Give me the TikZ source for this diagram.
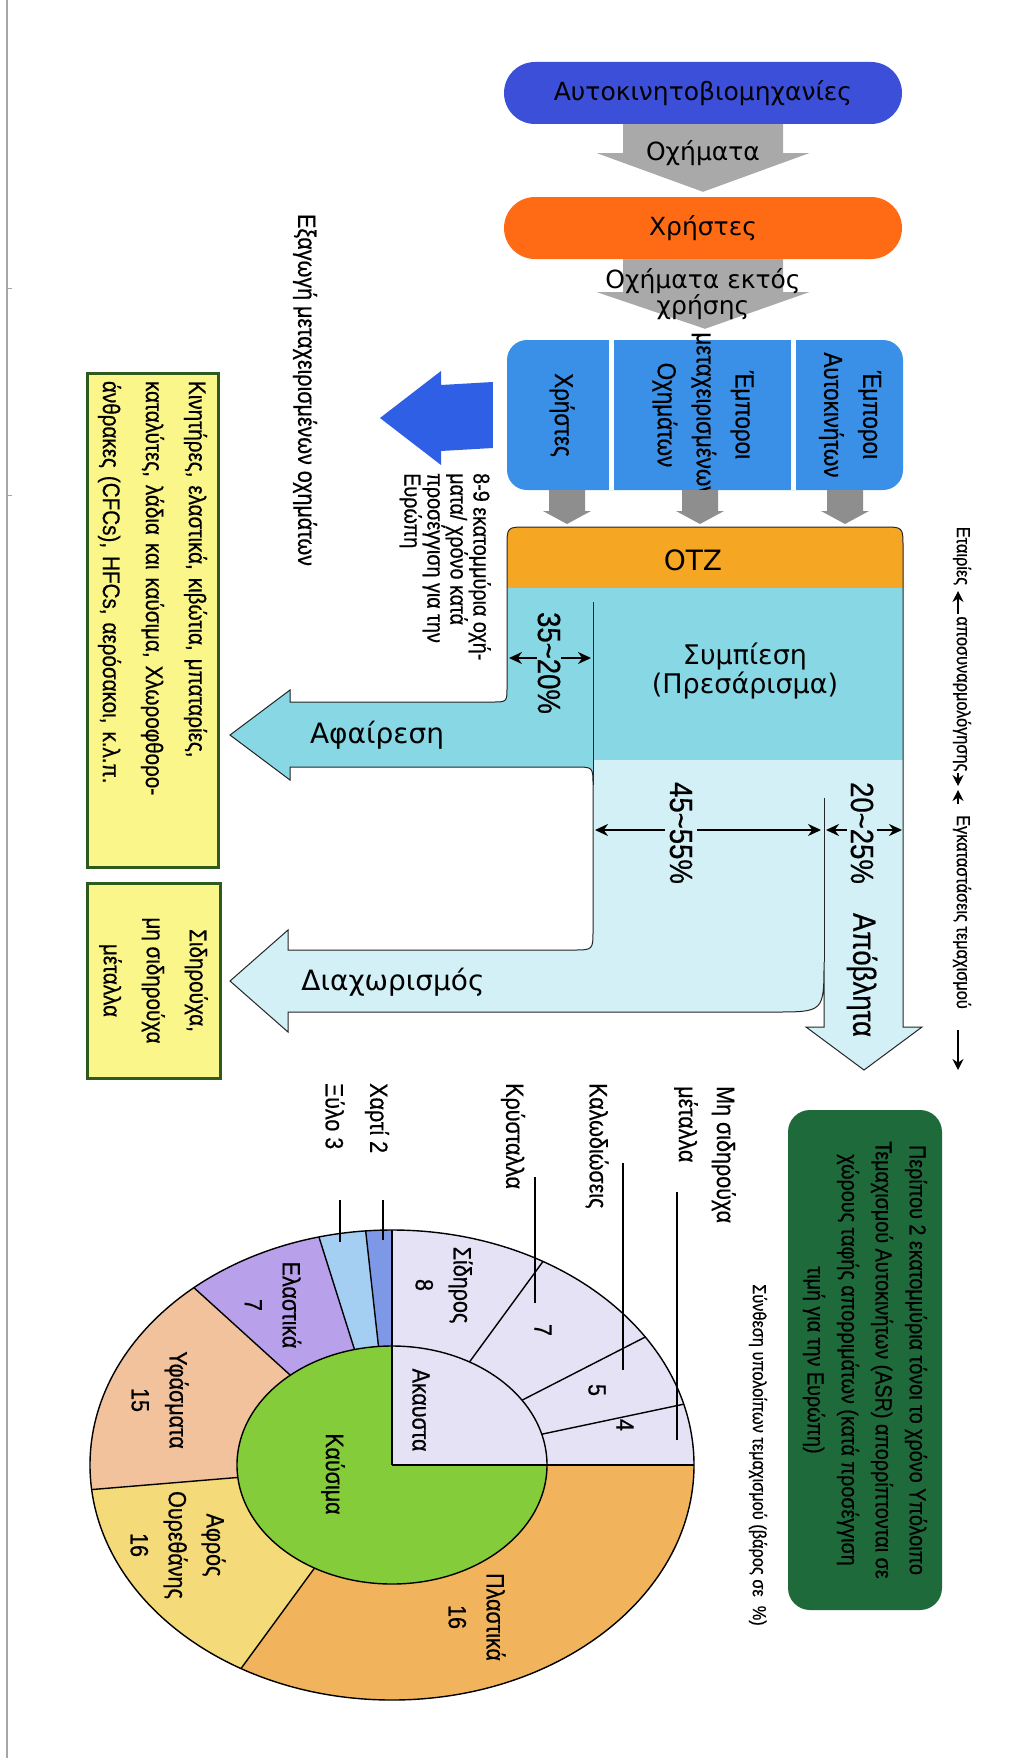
\documentclass[tikz,border=0pt]{standalone}
\usepackage{fontspec}
\setmainfont{DejaVu Sans}
\newfontfamily\condfont[FakeStretch=0.86,FakeBold=0.6]{Liberation Sans}
\usetikzlibrary{calc,arrows.meta}

\definecolor{makerblue}{HTML}{3B4FD9}
\definecolor{userorange}{HTML}{FF6B14}
\definecolor{arrowgray}{HTML}{A9A9A9}
\definecolor{stubgray}{HTML}{8E8E8E}
\definecolor{dealerblue}{HTML}{3A8FE6}
\definecolor{exportblue}{HTML}{2F5FE4}
\definecolor{otzorange}{HTML}{F5A623}
\definecolor{tealdark}{HTML}{88D7E4}
\definecolor{teallight}{HTML}{D2F0F6}
\definecolor{noteyellow}{HTML}{FBF68A}
\definecolor{noteedge}{HTML}{2F5A1E}
\definecolor{asrgreen}{HTML}{1F6A3A}
\definecolor{pieinert}{HTML}{E4E2F4}
\definecolor{piefuel}{HTML}{84CC3A}
\definecolor{pieplastic}{HTML}{F1B35C}
\definecolor{piefoam}{HTML}{F4DA78}
\definecolor{piecloth}{HTML}{F2C29C}
\definecolor{pierubber}{HTML}{B8A0EA}
\definecolor{piewood}{HTML}{A4CFF3}
\definecolor{piepaper}{HTML}{7E98E8}

% outline of the dismantling / shredding flow
\newcommand\flowpath{(507,547) .. controls (507,527) .. (527,527) -- (883,527)
  .. controls (903,527) .. (903,547) -- (903,1027) -- (922,1027) -- (864,1070)
  -- (806,1027) -- (824,1027) -- (824,962) .. controls (824,1012) .. (774,1012)
  -- (288,1012) -- (288,1032) -- (230,981) -- (288,930) -- (288,950) -- (573,950)
  .. controls (593,950) .. (593,930) -- (593,785) .. controls (593,767) .. (575,767)
  -- (290,767) -- (290,780) -- (230,735) -- (290,690) -- (290,702) -- (492,702)
  .. controls (507,702) .. (507,687) -- cycle}

% one wedge of the outer ring of the composition chart
\newcommand\ringwedge[3]{%
  \fill[#3] ([shift={(pc)}]#1:302pt and 235pt)
    arc[start angle=#1, end angle=#2, x radius=302pt, y radius=235pt]
    -- ([shift={(pc)}]#2:155pt and 119pt)
    arc[start angle=#2, end angle=#1, x radius=155pt, y radius=119pt] -- cycle;}
\newcommand\ringspoke[1]{%
  \draw[pieline] ([shift={(pc)}]#1:155pt and 119pt) -- ([shift={(pc)}]#1:302pt and 235pt);}

\tikzset{
  every node/.style={text=black, inner sep=0pt},
  pill/.style={rounded corners=31pt, minimum width=398pt, minimum height=62pt,
    font=\fontsize{25}{30}\selectfont},
  blocklabel/.style={align=center, font=\fontsize{25}{21}\selectfont},
  flowlabel/.style={align=center, font=\fontsize{27}{27}\selectfont},
  coltext/.style={rotate=-90, align=center, font=\condfont\fontsize{26}{39}\selectfont},
  dimtext/.style={rotate=-90, font=\condfont\fontsize{32}{36}\selectfont},
  sidetext/.style={rotate=-90, font=\condfont\fontsize{19}{22}\selectfont},
  notetext/.style={rotate=-90, align=left, font=\condfont\fontsize{23}{23}\selectfont},
  notebox/.style={rotate=-90, draw=noteedge, line width=3pt, fill=noteyellow,
    inner sep=8pt, font=\condfont\fontsize{24}{43}\selectfont},
  asrbox/.style={rotate=-90, fill=asrgreen, rounded corners=22pt, align=center,
    font=\condfont\fontsize{23}{34}\selectfont},
  pielabel/.style={rotate=-90, align=center, font=\condfont\fontsize{25}{38}\selectfont},
  leader/.style={line width=1.2pt},
  dimarrow/.style={line width=1.8pt, -{Stealth[length=13pt,width=12pt]}},
  sidearrow/.style={line width=1.6pt, -{Stealth[length=11pt,width=11pt]}},
  flowline/.style={line width=1pt, black!85},
  pieline/.style={line width=1.4pt},
}

\begin{document}
\begin{tikzpicture}[x=1pt, y=-1pt]
\useasboundingbox (0,0) rectangle (1017,1758);
\fill[white] (0,0) rectangle (1017,1758);

% page edge
\draw[black!35, line width=1.5pt] (7,0) -- (7,1758);
\draw[black!35, line width=1pt] (7,288) -- (12,288) (7,495) -- (12,495);

% ---------------- supply chain ----------------
\node[pill, fill=makerblue] (makers) at (703,93) {Αυτοκινητοβιομηχανίες};
\node[pill, fill=userorange] (users) at (703,228) {Χρήστες};

\fill[arrowgray] ($(makers.south)+(-80,0)$) -- ($(makers.south)+(80,0)$)
  -- ($(makers.south)+(80,29)$) -- ($(makers.south)+(106,29)$)
  -- ($(users.north)+(0,-5)$)
  -- ($(makers.south)+(-106,29)$) -- ($(makers.south)+(-80,29)$) -- cycle;
\node[blocklabel] (vehicles) at (703,153) {Οχήματα};

\node[rounded corners=20pt, fill=dealerblue, minimum width=396pt, minimum height=150pt]
  (dealers) at (705,415) {};
\fill[arrowgray] ($(users.south)+(-80,0)$) -- ($(users.south)+(80,0)$)
  -- ($(users.south)+(80,33)$) -- ($(users.south)+(106,33)$)
  -- ($(dealers.north)+(0,-11)$)
  -- ($(users.south)+(-106,33)$) -- ($(users.south)+(-80,33)$) -- cycle;
\node[blocklabel] (elv) at (703,294) {Οχήματα εκτός\\χρήσης};

\draw[white, line width=5pt] (611,340) -- (611,490) (793,340) -- (793,490);
\node[coltext] (colusers) at (562,415) {Χρήστες};
\node[coltext] (colused) at (703,415) {Έμποροι\\μεταχειρισμένων\\Οχημάτων};
\node[coltext] (coldealers) at (850,415) {Έμποροι\\Αυτοκινήτων};

\foreach \cx in {567,700,845}
  \fill[stubgray] (\cx-18,490) -- (\cx+18,490) -- (\cx+18,511) -- (\cx+24,511)
    -- (\cx,524) -- (\cx-24,511) -- (\cx-18,511) -- cycle;

% export of used vehicles
\fill[exportblue] ($(dealers.west)+(-14,-33)$) -- ($(dealers.west)+(-14,33)$)
  -- (441,451) -- (441,465) -- (380,418) -- (441,371) -- (441,385) -- cycle;
\node[notetext, anchor=north west] (exportnote) at (491,473)
  {8-9 εκατομμύρια οχή-\\ματα/ χρόνο κατά\\προσέγγιση για την\\Ευρώπη};
\node[sidetext, font=\condfont\fontsize{25}{26}\selectfont] (exporttitle) at (305,390)
  {Εξαγωγή μεταχειρισμένων οχημάτων};

% ---------------- dismantling and shredding ----------------
\fill[teallight] \flowpath;
\begin{scope}
  \clip \flowpath;
  \fill[tealdark] (200,588) rectangle (903,760);
  \fill[tealdark] (200,588) rectangle (593,800);
  \fill[otzorange] (500,520) rectangle (910,588);
\end{scope}
\draw[flowline] \flowpath;
\draw[flowline] (593,602) -- (593,785);
\draw[flowline] (824,798) -- (824,962);

\node[font=\fontsize{28}{30}\selectfont] (otz) at (693,560) {ΟΤΖ};
\node[flowlabel] (press) at (745,671) {Συμπίεση\\(Πρεσάρισμα)};
\node[font=\fontsize{28}{30}\selectfont] (removal) at (377,735) {Αφαίρεση};
\node[font=\fontsize{28}{30}\selectfont] (separation) at (393,982) {Διαχωρισμός};
\node[dimtext] (waste) at (862,975) {Απόβλητα};

% shares of the flow
\node[dimtext] (shareA) at (549,663) {35\textasciitilde 20\%};
\coordinate (shareAl) at (509,658); \coordinate (shareAr) at (591,658);
\draw[dimarrow] ($(shareA.center)+(-12,-5)$) -- (shareAl);
\draw[dimarrow] ($(shareA.center)+(12,-5)$) -- (shareAr);

\node[dimtext] (shareB) at (681,833) {45\textasciitilde 55\%};
\coordinate (shareBl) at (595,830); \coordinate (shareBr) at (821,830);
\draw[dimarrow] ($(shareB.center)+(-16,-3)$) -- (shareBl);
\draw[dimarrow] ($(shareB.center)+(16,-3)$) -- (shareBr);

\node[dimtext] (shareC) at (862,833) {20\textasciitilde 25\%};
\coordinate (shareCl) at (826,830); \coordinate (shareCr) at (902,830);
\draw[dimarrow] ($(shareC.center)+(-15,-3)$) -- (shareCl);
\draw[dimarrow] ($(shareC.center)+(15,-3)$) -- (shareCr);

% stages of the chain
\node[sidetext] (firms) at (962,556) {Εταιρίες};
\node[sidetext] (firmsb) at (962,694) {αποσυναρμολόγησης};
\node[sidetext] (plants) at (962,912) {Εγκαταστάσεις τεμαχισμού};
\coordinate (firmsStartTail) at (958,614);
\coordinate (firmsStart) at (958,591);
\coordinate (firmsEndTail) at (958,773);
\coordinate (firmsEnd) at (958,786);
\coordinate (plantsStartTail) at (958,804);
\coordinate (plantsStart) at (958,790);
\coordinate (plantsEndTail) at (958,1030);
\coordinate (plantsEnd) at (958,1070);
\draw[sidearrow] (firmsStartTail) -- (firmsStart);
\draw[sidearrow] (firmsEndTail) -- (firmsEnd);
\draw[sidearrow] (plantsStartTail) -- (plantsStart);
\draw[sidearrow] (plantsEndTail) -- (plantsEnd);

% outputs
\node[notebox, minimum width=494pt, minimum height=131pt, text width=478pt, align=left]
  (removed) at (152.5,620)
  {Κινητήρες, ελαστικά, κιβώτια, μπαταρίες,\\καταλύτες, λάδια και καύσιμα, Χλωροφθορο-\\άνθρακες (CFCs), HFCs, αερόσακοι, κ.λ.π.};
\node[notebox, minimum width=195pt, minimum height=133pt, align=center]
  (sorted) at (153.5,980.5) {Σιδηρούχα,\\μη σιδηρούχα\\μέταλλα};

\node[asrbox, minimum width=500pt, minimum height=154pt] (asr) at (865,1360)
  {Περίπου 2 εκατομμύρια τόνοι το χρόνο Υπόλοιπο\\Τεμαχισμού Αυτοκινήτων (ASR) απορρίπτονται σε\\χώρους ταφής απορριμάτων (κατά προσέγγιση\\τιμή για την Ευρώπη)};

% ---------------- composition of the shredder residue ----------------
\node[sidetext, font=\condfont\fontsize{19}{22}\selectfont] (pietitle) at (758,1455)
  {Σύνθεση υπολοίπων τεμαχισμού (βάρος σε \ \%)};

\coordinate (pc) at (392,1465);
\ringwedge{0}{15}{pieinert}
\ringwedge{15}{33}{pieinert}
\ringwedge{33}{60}{pieinert}
\ringwedge{60}{90}{pieinert}
\ringwedge{90}{95}{piepaper}
\ringwedge{95}{104}{piewood}
\ringwedge{104}{131}{pierubber}
\ringwedge{131}{186}{piecloth}
\ringwedge{186}{240}{piefoam}
\ringwedge{240}{360}{pieplastic}
\fill[pieinert] (pc) -- ([shift={(pc)}]0:155pt and 119pt)
  arc[start angle=0, end angle=90, x radius=155pt, y radius=119pt] -- cycle;
\fill[piefuel] (pc) -- ([shift={(pc)}]90:155pt and 119pt)
  arc[start angle=90, end angle=360, x radius=155pt, y radius=119pt] -- cycle;
\draw[pieline] (pc) ellipse[x radius=302pt, y radius=235pt];
\draw[pieline] (pc) ellipse[x radius=155pt, y radius=119pt];
\foreach \a in {15,33,60,95,104,131,186,240} { \ringspoke{\a} }
\draw[pieline] (pc) -- ([shift={(pc)}]0:302pt and 235pt);
\draw[pieline] (pc) -- ([shift={(pc)}]90:302pt and 235pt);

\node[pielabel] (inert) at (421,1410) {Ακαυστα};
\node[pielabel] (fuel) at (333,1474) {Καύσιμα};
\node[pielabel] (plastic) at (477,1617) {Πλαστικά\\16};
\node[pielabel] (foam) at (178,1545) {Αφρός\\Ουρεθάνης\\16};
\node[pielabel] (cloth) at (160,1400) {Υφάσματα\\15};
\node[pielabel] (rubber) at (273,1305) {Ελαστικά\\7};
\node[pielabel] (iron) at (444,1285) {Σίδηρος\\8};
\node[pielabel] (glassval) at (543,1330) {7};
\node[pielabel] (wireval) at (597,1390) {5};
\node[pielabel] (nonfeval) at (625,1425) {4};

% labels outside the chart
\node[pielabel, align=left, anchor=north west] (nonfe) at (736,1086) {Μη σιδηρούχα\\μέταλλα};
\coordinate (nonfeEnd) at (677,1440);
\draw[leader] (677,1192) -- (nonfeEnd);
\node[pielabel, anchor=west] (wires) at (597,1083) {Καλωδιώσεις};
\coordinate (wiresEnd) at (623,1370);
\draw[leader] (623,1163) -- (wiresEnd);
\node[pielabel, anchor=west] (glass) at (513,1083) {Κρύσταλλα};
\coordinate (glassEnd) at (535,1303);
\draw[leader] (535,1177) -- (glassEnd);
\node[pielabel, anchor=west] (paper) at (377,1083) {Χαρτί 2};
\coordinate (paperEnd) at (383,1240);
\draw[leader] (383,1200) -- (paperEnd);
\node[pielabel, anchor=west] (wood) at (335,1083) {Ξύλο 3};
\coordinate (woodEnd) at (340,1242);
\draw[leader] (340,1200) -- (woodEnd);
\end{tikzpicture}
\end{document}
